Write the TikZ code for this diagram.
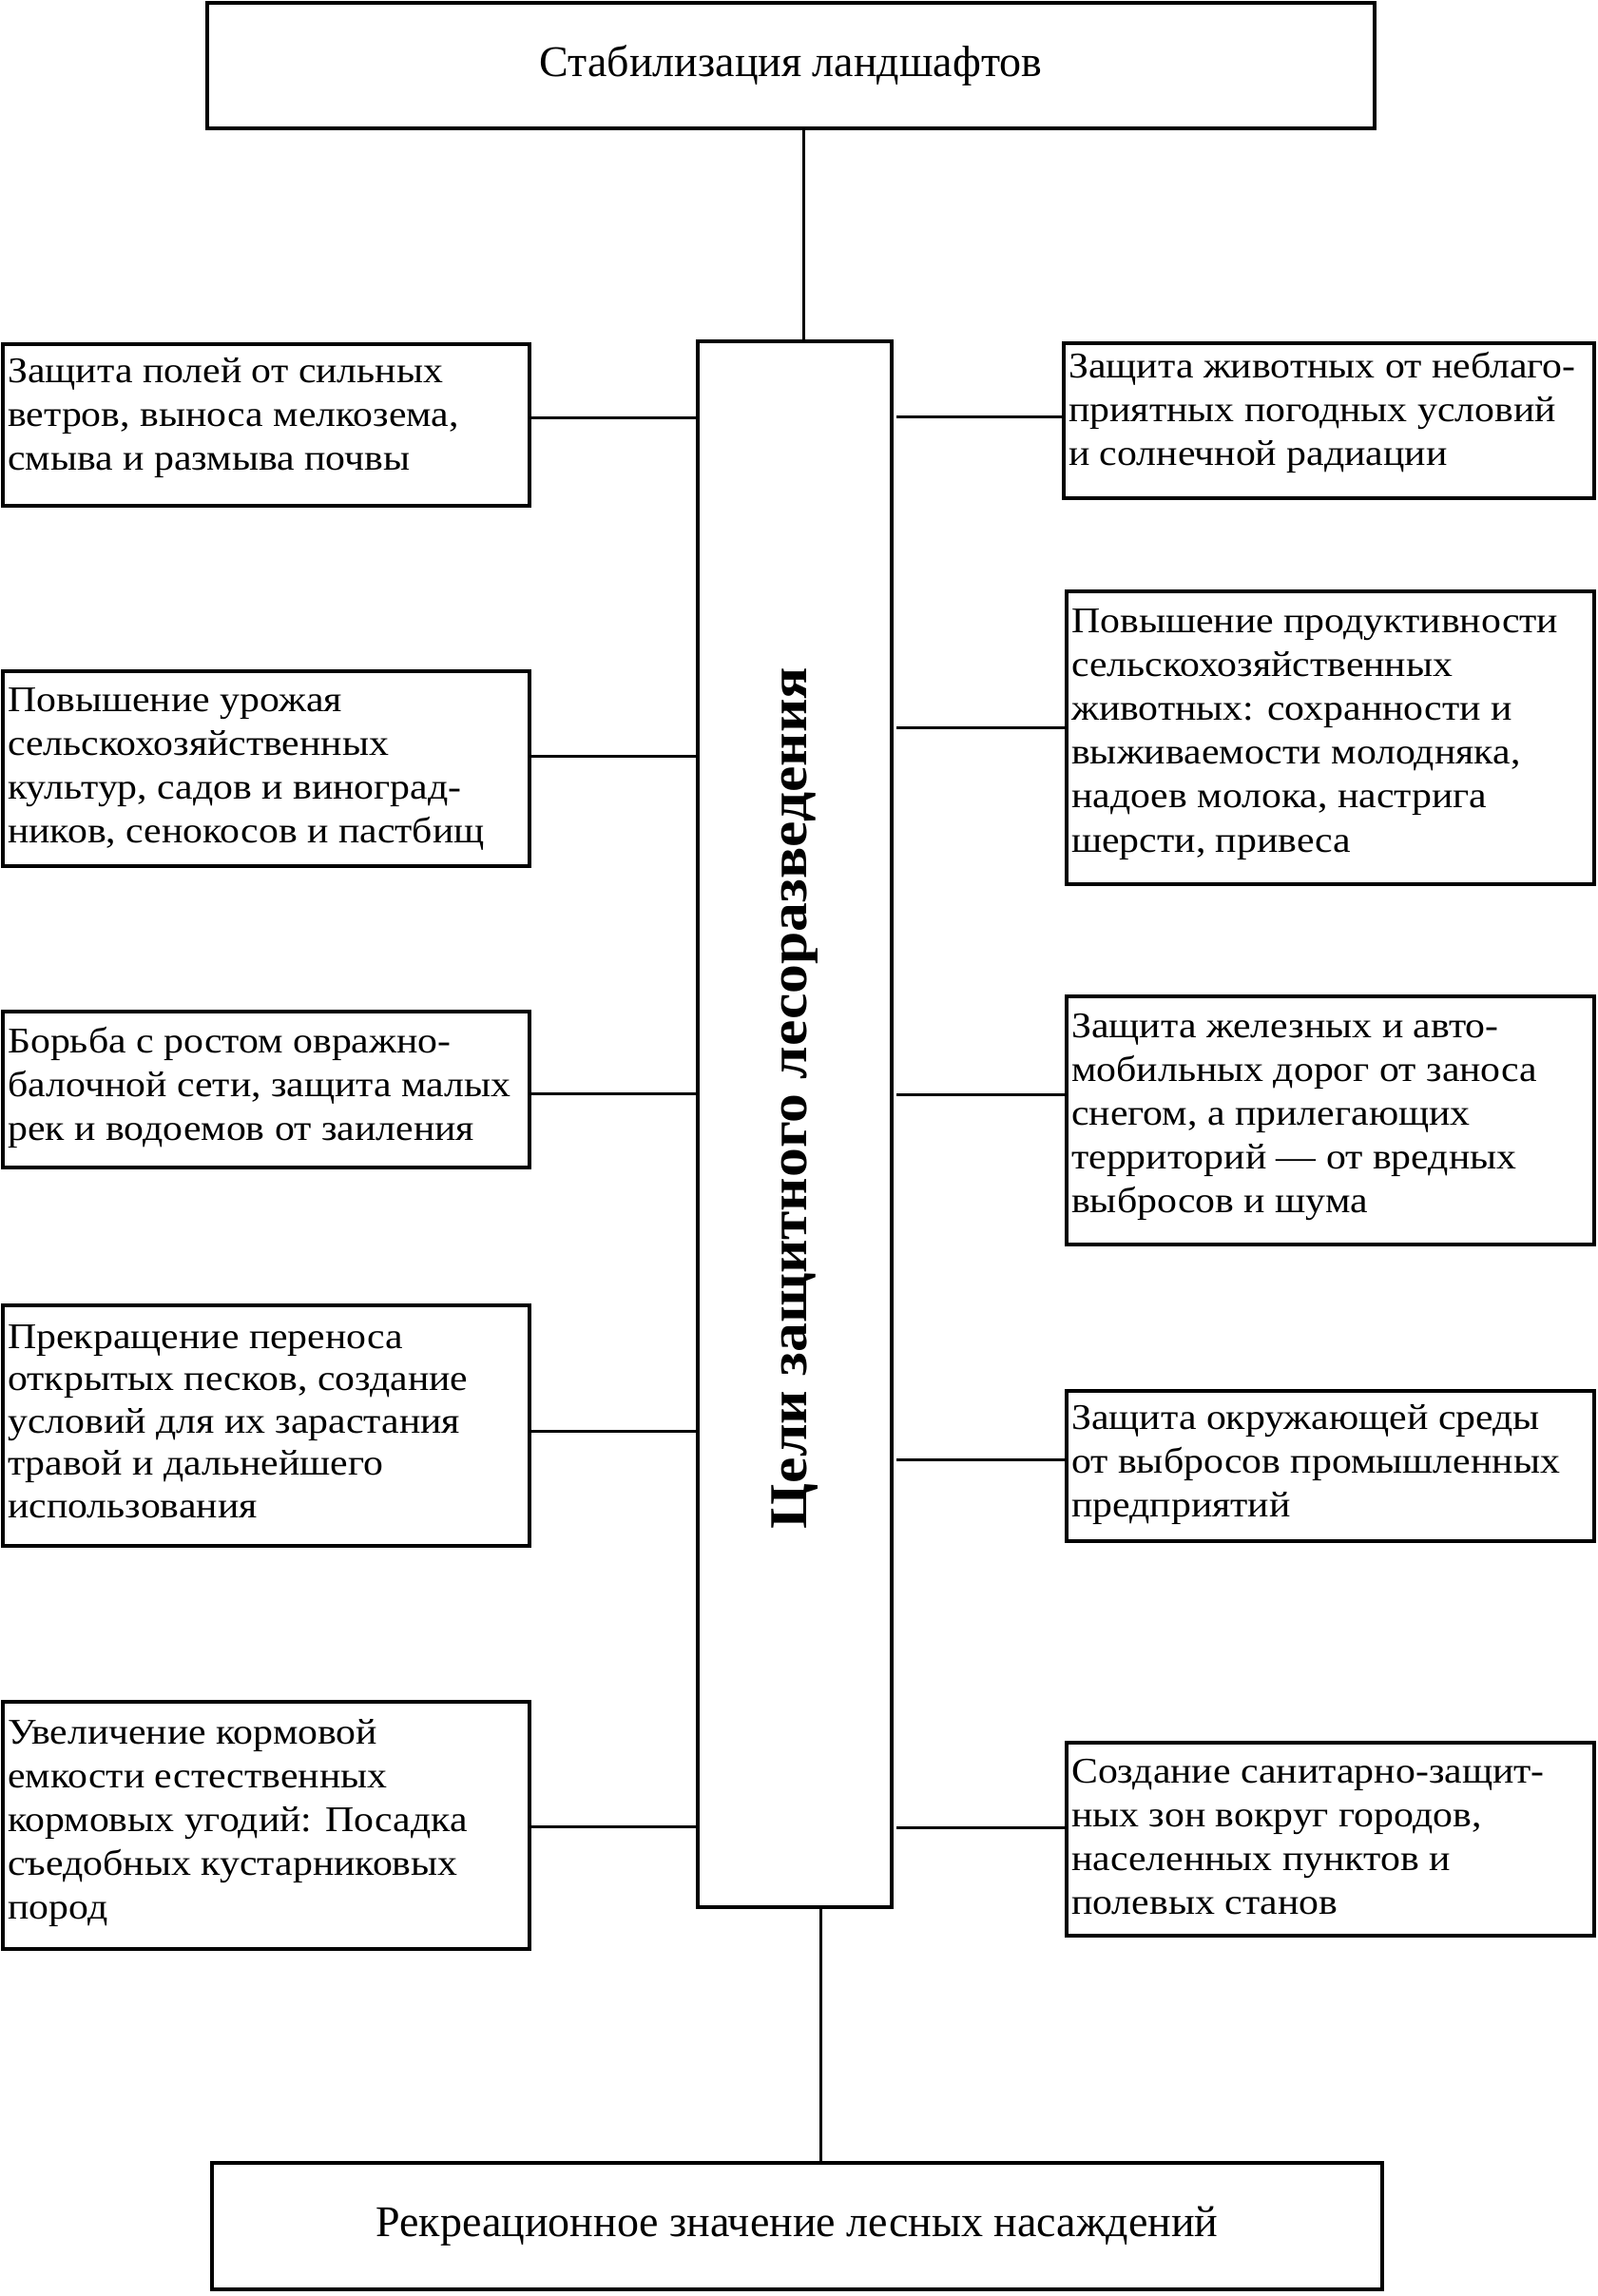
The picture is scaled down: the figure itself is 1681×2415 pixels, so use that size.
\documentclass[tikz,border=0pt]{standalone}
\usepackage{fontspec}
\setmainfont{Liberation Serif}
\newfontfamily\bodyfont[FakeStretch=1.1]{Liberation Serif}
\usetikzlibrary{calc}
\newcommand\mkbox[7]{%
  \node[box, minimum width=#4pt-#2pt, minimum height=#5pt-#3pt] (#1) at (#2,#3) {};
  \node[bodytxt] (#1t) at ($(#1.north west)+(5,#6)$) {\parbox[t]{570pt}{\raggedright #7}};
}
\begin{document}
\begin{tikzpicture}[x=1pt,y=-1pt,
  box/.style={draw, line width=3.5pt, rectangle, inner sep=0pt, outer sep=0pt, anchor=north west},
  conn/.style={line width=3pt},
  bodytxt/.style={inner sep=0pt, anchor=base west, font=\bodyfont\fontsize{38}{46.2}\selectfont},
  bigtxt/.style={font=\fontsize{46}{50}\selectfont}
]
\useasboundingbox (0,0) rectangle (1681,2415);

\node[box, bigtxt, minimum width=1228pt, minimum height=132pt] (Top) at (218,3) {Стабилизация ландшафтов};
\node[box, bigtxt, minimum width=1231pt, minimum height=133pt] (Bot) at (223,2275) {Рекреационное значение лесных насаждений};
\node[box, minimum width=204pt, minimum height=1647pt] (C) at (734,359) {};
\node[rotate=90, inner sep=0pt, font=\bodyfont\bfseries\fontsize{56}{60}\selectfont] (T) at (836,1155) {Цели защитного лесоразведения};

\mkbox{L1}{3}{362}{557}{532}{40}{Защита полей от сильных\\ветров, выноса мелкозема,\\смыва и размыва почвы}
\mkbox{L2}{3}{706}{557}{911}{42}{Повышение урожая\\сельскохозяйственных\\культур, садов и виноград-\\ников, сенокосов и пастбищ}
\mkbox{L3}{3}{1064}{557}{1228}{43}{Борьба с ростом овражно-\\балочной сети, защита малых\\рек и водоемов от заиления}
\mkbox{L4}{3}{1373}{557}{1626}{45}{\fontsize{38}{44.5}\selectfont Прекращение переноса\\открытых песков, создание\\условий для их зарастания\\травой и дальнейшего\\использования}
\mkbox{L5}{3}{1790}{557}{2050}{44}{Увеличение кормовой\\емкости естественных\\кормовых угодий: Посадка\\съедобных кустарниковых\\пород}

\mkbox{R1}{1119}{361}{1677}{524}{36}{Защита животных от неблаго-\\приятных погодных условий\\и солнечной радиации}
\mkbox{R2}{1122}{622}{1677}{930}{43}{Повышение продуктивности\\сельскохозяйственных\\животных: сохранности и\\выживаемости молодняка,\\надоев молока, настрига\\шерсти, привеса}
\mkbox{R3}{1122}{1048}{1677}{1309}{43}{Защита железных и авто-\\мобильных дорог от заноса\\снегом, а прилегающих\\территорий — от вредных\\выбросов и шума}
\mkbox{R4}{1122}{1463}{1677}{1621}{40}{Защита окружающей среды\\от выбросов промышленных\\предприятий}
\mkbox{R5}{1122}{1833}{1677}{2036}{42}{Создание санитарно-защит-\\ных зон вокруг городов,\\населенных пунктов и\\полевых станов}

\draw[conn] (Top.south -| 845,0) -- (C.north -| 845,0);
\draw[conn] (C.south -| 863,0) -- (Bot.north -| 863,0);

\draw[conn] (L1.east |- 0,439) -- (C.west |- 0,439);
\draw[conn] (L2.east |- 0,795) -- (C.west |- 0,795);
\draw[conn] (L3.east |- 0,1150) -- (C.west |- 0,1150);
\draw[conn] (L4.east |- 0,1505) -- (C.west |- 0,1505);
\draw[conn] (L5.east |- 0,1921) -- (C.west |- 0,1921);

\draw[conn, shorten <=5pt] (C.east |- 0,438) -- (R1.west |- 0,438);
\draw[conn, shorten <=5pt] (C.east |- 0,765) -- (R2.west |- 0,765);
\draw[conn, shorten <=5pt] (C.east |- 0,1151) -- (R3.west |- 0,1151);
\draw[conn, shorten <=5pt] (C.east |- 0,1535) -- (R4.west |- 0,1535);
\draw[conn, shorten <=5pt] (C.east |- 0,1922) -- (R5.west |- 0,1922);
\end{tikzpicture}
\end{document}
